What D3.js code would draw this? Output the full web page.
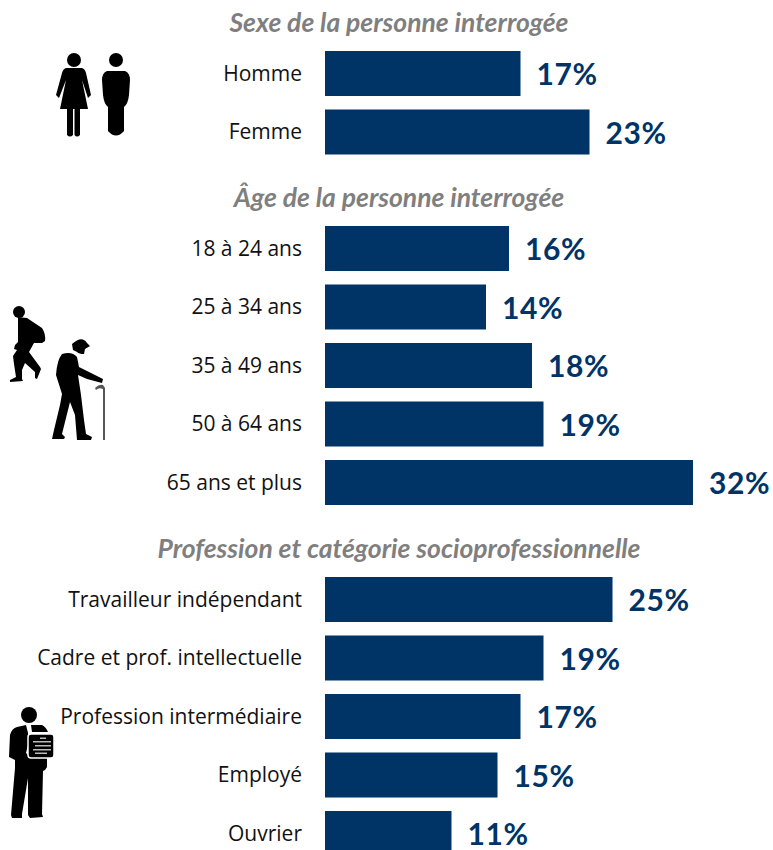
<!DOCTYPE html>
<html>
<head>
<meta charset="utf-8">
<script src="https://cdn.jsdelivr.net/npm/d3@7"></script>
<style>
  html, body { margin: 0; padding: 0; background: #fff; overflow: hidden; }
</style>
</head>
<body>
<div id="chart"></div>
<script>
"use strict";

const sexeCategories = ["Homme", "Femme"];
const sexeValues = [17, 23];
const ageCategories = ["18 à 24 ans", "25 à 34 ans", "35 à 49 ans", "50 à 64 ans", "65 ans et plus"];
const ageValues = [16, 14, 18, 19, 32];
const professionCategories = ["Travailleur indépendant", "Cadre et prof. intellectuelle", "Profession intermédiaire", "Employé", "Ouvrier"];
const professionValues = [25, 19, 17, 15, 11];
const groupTitles = ["Sexe de la personne interrogée", "Âge de la personne interrogée", "Profession et catégorie socioprofessionnelle"];

const width = 773, height = 850;
const navy = "#003366", grey = "#7f7f7f";
const step = 58.5, barHeight = 45;

const svg = d3.select("#chart").append("svg")
  .attr("width", width)
  .attr("height", height)
  .style("display", "block");

// 32% bar ends at x=693
const x = d3.scaleLinear().domain([0, 32]).range([325, 693]);

function drawGroup(title, categories, values, top) {
  const pad = step - barHeight;
  const y = d3.scaleBand()
    .domain(categories)
    .range([top - pad / 2, top - pad / 2 + step * categories.length])
    .paddingInner(pad / step)
    .paddingOuter(pad / step / 2);

  const g = svg.append("g");

  // Group title
  g.append("text")
    .attr("x", 399)
    .attr("y", top - 19)
    .attr("text-anchor", "middle")
    .attr("font-family", "Lato, sans-serif")
    .attr("font-size", "26.5px")
    .attr("font-weight", "bold")
    .attr("font-style", "italic")
    .attr("fill", grey)
    .text(title);

  categories.forEach(function(cat, i) {
    // Bar
    g.append("rect")
      .attr("x", x(0))
      .attr("y", y(cat))
      .attr("width", x(values[i]) - x(0))
      .attr("height", y.bandwidth())
      .attr("fill", navy);

    // Category label
    g.append("text")
      .attr("x", 302)
      .attr("y", y(cat) + y.bandwidth() / 2)
      .attr("dy", "0.35em")
      .attr("text-anchor", "end")
      .attr("font-family", "'Open Sans', sans-serif")
      .attr("font-size", "21px")
      .attr("fill", "#111")
      .text(cat);

    // Value
    g.append("text")
      .attr("x", x(values[i]) + 16)
      .attr("y", y(cat) + y.bandwidth() / 2 + 1)
      .attr("dy", "0.35em")
      .attr("font-family", "Lato, sans-serif")
      .attr("font-size", "30px")
      .attr("letter-spacing", "0.6px")
      .attr("font-weight", "bold")
      .attr("fill", navy)
      .text(values[i] + "%");
  });
}

drawGroup(groupTitles[0], sexeCategories, sexeValues, 51);
drawGroup(groupTitles[1], ageCategories, ageValues, 226);
drawGroup(groupTitles[2], professionCategories, professionValues, 577);

// Pictograms
const icons = svg.append("g").attr("fill", "#000");

// woman
icons.append("circle").attr("cx", 74).attr("cy", 60).attr("r", 7);
icons.append("path").attr("d", "M66 68 L82 68 Q85 69 86 73 L91 95 L88 98 L82 80 L88 109 L80 109 L80 135 Q77 138 74.500 135 L74.500 109 L73 109 L73 135 Q70 138 67 135 L67 109 L60 109 L66 80 L59 98 L56 95 L62 73 Q63 69 66 68 Z");
// man
icons.append("circle").attr("cx", 116).attr("cy", 60).attr("r", 7);
icons.append("path").attr("d", "M107 71 L125 71 Q130 73 130 80 L129 95 Q128 104 124 107 L124 131 Q116 140 108 131 L108 107 Q104 104 103 95 L102 80 Q102 73 107 71 Z");

// hiker
icons.append("circle").attr("cx", 19).attr("cy", 312).attr("r", 6);
icons.append("path").attr("d", "M18 317 L27 318 L42 328 Q46 334 45 341 L42 343 L34 343 L29 352 L40 367 L41 369 L37 379 L35 378 L35 372 L25 363 L22 370 L22 379 L23 381 L10 382 L10 380 L16 377 L14 364 L13 356 L17 350 L14 349 L15 345 L18 342 Z");

// old man with cane
icons.append("path").attr("d", "M72 344 Q82 335 87 343 L90 346 L85 349 L84 354 Q79 354 77 352 L73 350 Z");
icons.append("path").attr("d", "M62 354 Q72 351 77 357 L79 367 L103 379 L102 383 L87 379 L78 375 L81 395 L84 420 L86 434 L92 437 L91 440 L77 440 L75 415 L70 402 L62 434 L65 437 L64 439 L52 439 L54 430 L60 405 L62 394 L56 375 Q57 360 62 354 Z");
icons.append("path").attr("d", "M95 388 Q99 384 103 385 L105 388 L105 440 L103 440 L103 389 Q99 387 96 390 Z").attr("fill", "#555");

// worker with tablet
icons.append("circle").attr("cx", 29).attr("cy", 715).attr("r", 8);
icons.append("path").attr("d", "M17 727 L26 725 L28 733 L28 745 L26 753 L30 757 L47 758 L47 767 L45 770 L43 771 L42 814 L43 817 L30 818 L28 815 L28 778 L22 814 L22 818 L12 818 L11 815 L15 768 L15 760 L9 757 L10 735 Q12 728 17 727 Z");
icons.append("path").attr("d", "M31 725 L42 725 Q46 727 48 732 L32 732 Z");
icons.append("rect").attr("x", 28).attr("y", 734).attr("width", 26).attr("height", 24).attr("rx", 3)
  .attr("stroke", "#fff").attr("stroke-width", 1.500);
const tabletLines = [[40, 737.500, 6], [33, 741, 18], [35, 745, 16], [33, 749, 18], [35, 752.500, 12]];
tabletLines.forEach(function(l) {
  icons.append("rect").attr("x", l[0]).attr("y", l[1]).attr("width", l[2]).attr("height", 1.500).attr("fill", "#bbb");
});
</script>
</body>
</html>
